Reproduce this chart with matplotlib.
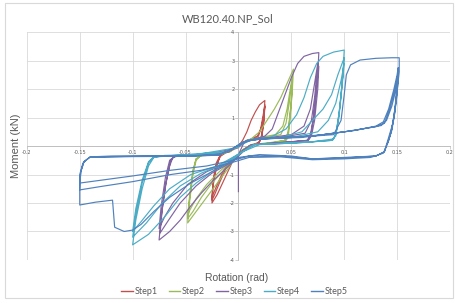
import matplotlib.pyplot as plt
from matplotlib.patches import Rectangle
from matplotlib.lines import Line2D

# (rotation rad, moment kN), one list per step
step1_pts = [
    (0.0, 0.0), (0.004, 0.2), (0.008, 0.5), (0.012, 0.9), (0.016, 1.2), (0.02, 1.45), (0.025, 1.6),
    (0.024, 1.0), (0.022, 0.4), (0.02, 0.15), (0.014, 0.05), (0.008, -0.05), (0.003, -0.25),
    (-0.005, -0.5), (-0.01, -0.9), (-0.015, -1.3), (-0.02, -1.7), (-0.025, -2.0),
    (-0.024, -1.4), (-0.021, -0.8), (-0.018, -0.4), (-0.014, -0.25), (-0.008, -0.15), (0.0, 0.0),
    (0.006, 0.15), (0.012, 0.25), (0.018, 0.35), (0.021, 0.6), (0.023, 1.0), (0.025, 1.45),
    (0.024, 0.9), (0.022, 0.3), (0.019, 0.1), (0.01, 0.0), (0.003, -0.2),
    (-0.005, -0.45), (-0.012, -0.8), (-0.018, -1.3), (-0.023, -1.75), (-0.025, -1.9),
    (-0.024, -1.3), (-0.021, -0.7), (-0.017, -0.35), (-0.01, -0.2), (0.0, -0.05),
    (0.006, 0.15), (0.014, 0.25), (0.019, 0.35), (0.022, 0.7), (0.024, 1.1), (0.025, 1.4),
    (0.024, 0.85), (0.022, 0.3), (0.019, 0.1), (0.01, 0.0), (0.003, -0.2),
    (-0.006, -0.45), (-0.014, -0.85), (-0.02, -1.35), (-0.024, -1.7), (-0.025, -1.85),
    (-0.024, -1.2), (-0.021, -0.6), (-0.017, -0.3), (-0.008, -0.15), (0.0, 0.0),
]

step2_pts = [
    (0.0, 0.0), (0.005, 0.15), (0.012, 0.25), (0.02, 0.5), (0.027, 0.9), (0.034, 1.3), (0.04, 1.7),
    (0.046, 2.2), (0.052, 2.7),
    (0.051, 2.0), (0.049, 1.0), (0.047, 0.3), (0.044, 0.15), (0.03, 0.1), (0.015, 0.05), (0.005, -0.1),
    (-0.003, -0.4), (-0.01, -0.8), (-0.018, -1.2), (-0.026, -1.6), (-0.034, -2.0), (-0.042, -2.4),
    (-0.048, -2.7),
    (-0.046, -1.9), (-0.043, -1.0), (-0.04, -0.5), (-0.036, -0.35), (-0.02, -0.3), (-0.008, -0.2),
    (0.0, 0.0), (0.008, 0.2),
    (0.02, 0.3), (0.035, 0.4), (0.042, 0.7), (0.046, 1.3), (0.049, 2.0), (0.051, 2.45),
    (0.05, 1.6), (0.047, 0.5), (0.044, 0.2), (0.03, 0.12), (0.012, 0.05), (0.004, -0.15),
    (-0.005, -0.5), (-0.015, -0.9), (-0.025, -1.3), (-0.035, -1.8), (-0.043, -2.3), (-0.048, -2.55),
    (-0.046, -1.8), (-0.043, -0.9), (-0.04, -0.45), (-0.035, -0.33), (-0.02, -0.3), (-0.008, -0.2),
    (0.0, 0.0), (0.008, 0.2),
    (0.025, 0.3), (0.04, 0.4), (0.045, 0.8), (0.048, 1.5), (0.05, 2.1), (0.051, 2.35),
    (0.05, 1.5), (0.047, 0.45), (0.044, 0.2), (0.03, 0.1), (0.012, 0.05), (0.004, -0.15),
    (-0.006, -0.5), (-0.018, -0.9), (-0.03, -1.35), (-0.04, -1.85), (-0.046, -2.25), (-0.048, -2.45),
    (-0.046, -1.7), (-0.043, -0.85), (-0.04, -0.45), (-0.035, -0.33), (-0.015, -0.28), (0.0, 0.0),
]

step3_pts = [
    (0.0, -1.6), (0.0, -0.3), (0.005, 0.1), (0.015, 0.25), (0.025, 0.35), (0.032, 0.6), (0.038, 1.2),
    (0.044, 1.8), (0.05, 2.4), (0.056, 2.9), (0.062, 3.15), (0.07, 3.25), (0.076, 3.28),
    (0.075, 2.5), (0.072, 1.3), (0.069, 0.5), (0.066, 0.2), (0.05, 0.15), (0.03, 0.1), (0.012, 0.05),
    (0.004, -0.15), (-0.005, -0.55), (-0.015, -0.9), (-0.025, -1.25), (-0.035, -1.65),
    (-0.045, -2.1), (-0.055, -2.6), (-0.065, -3.0), (-0.075, -3.3),
    (-0.073, -2.5), (-0.069, -1.4), (-0.065, -0.7), (-0.062, -0.4), (-0.055, -0.33), (-0.03, -0.3),
    (-0.01, -0.22), (0.0, 0.0), (0.008, 0.2),
    (0.03, 0.3), (0.05, 0.4), (0.062, 0.7), (0.068, 1.3), (0.072, 2.2), (0.075, 2.9),
    (0.074, 2.2), (0.071, 1.0), (0.068, 0.4), (0.065, 0.2), (0.04, 0.12), (0.015, 0.05),
    (0.004, -0.2), (-0.008, -0.6), (-0.025, -0.95), (-0.04, -1.4), (-0.055, -2.0), (-0.066, -2.6),
    (-0.074, -3.05),
    (-0.072, -2.2), (-0.068, -1.2), (-0.064, -0.5), (-0.06, -0.35), (-0.03, -0.3), (-0.01, -0.2),
    (0.0, 0.0), (0.01, 0.22),
    (0.04, 0.3), (0.063, 0.45), (0.069, 0.9), (0.072, 1.7), (0.074, 2.5), (0.076, 2.8),
    (0.075, 2.0), (0.072, 0.9), (0.069, 0.35), (0.066, 0.2), (0.04, 0.1), (0.015, 0.05),
    (0.004, -0.2), (-0.01, -0.6), (-0.03, -0.9), (-0.048, -1.35), (-0.062, -2.0), (-0.07, -2.5),
    (-0.075, -2.9),
    (-0.073, -2.1), (-0.069, -1.1), (-0.065, -0.5), (-0.06, -0.35), (-0.03, -0.3), (0.0, -0.05),
]

step4_pts = [
    (0.0, 0.0), (0.01, 0.2), (0.03, 0.3), (0.045, 0.6), (0.055, 1.1), (0.062, 1.7), (0.068, 2.4),
    (0.074, 2.9), (0.08, 3.15), (0.09, 3.3), (0.1, 3.37),
    (0.099, 2.6), (0.096, 1.4), (0.093, 0.6), (0.09, 0.25), (0.07, 0.15), (0.04, 0.1), (0.015, 0.05),
    (0.004, -0.2), (-0.01, -0.6), (-0.025, -0.9), (-0.04, -1.3), (-0.055, -1.8), (-0.07, -2.5),
    (-0.085, -3.1), (-0.1, -3.47),
    (-0.097, -2.6), (-0.091, -1.5), (-0.085, -0.7), (-0.08, -0.4), (-0.07, -0.33), (-0.04, -0.3),
    (-0.012, -0.22), (0.0, 0.0), (0.01, 0.22),
    (0.04, 0.3), (0.06, 0.5), (0.07, 0.9), (0.08, 1.3), (0.088, 1.8), (0.094, 2.5), (0.1, 3.1),
    (0.098, 2.2), (0.095, 1.1), (0.092, 0.4), (0.089, 0.2), (0.06, 0.12), (0.02, 0.05),
    (0.004, -0.2), (-0.015, -0.65), (-0.035, -0.95), (-0.055, -1.4), (-0.072, -2.0), (-0.087, -2.7),
    (-0.1, -3.2),
    (-0.097, -2.4), (-0.091, -1.3), (-0.085, -0.6), (-0.08, -0.38), (-0.05, -0.3), (-0.012, -0.2),
    (0.0, 0.0), (0.012, 0.22),
    (0.05, 0.3), (0.075, 0.5), (0.085, 0.9), (0.092, 1.5), (0.097, 2.3), (0.1, 2.9),
    (0.098, 2.1), (0.095, 1.0), (0.092, 0.35), (0.088, 0.2), (0.05, 0.1), (0.015, 0.05),
    (0.004, -0.2), (-0.02, -0.7), (-0.045, -1.0), (-0.065, -1.5), (-0.08, -2.1), (-0.093, -2.7),
    (-0.1, -3.0),
    (-0.097, -2.2), (-0.091, -1.2), (-0.085, -0.55), (-0.08, -0.38), (-0.04, -0.3), (0.0, -0.05),
]

step5_pts = [
    (0.0, 0.0), (0.01, 0.2), (0.04, 0.3), (0.07, 0.35), (0.09, 0.4), (0.097, 0.9), (0.1, 1.8),
    (0.102, 2.5), (0.106, 2.85), (0.115, 3.02), (0.13, 3.08), (0.145, 3.1), (0.152, 3.1),
    (0.152, 2.6), (0.149, 1.6), (0.146, 0.8), (0.142, 0.3), (0.138, -0.2), (0.13, -0.35),
    (0.1, -0.4), (0.07, -0.45), (0.05, -0.35), (0.02, -0.3), (0.0, -0.4), (-0.01, -0.6),
    (-0.025, -0.9), (-0.045, -1.3), (-0.065, -1.8), (-0.08, -2.3), (-0.092, -2.75), (-0.1, -2.95),
    (-0.108, -3.0), (-0.117, -2.85), (-0.119, -1.9), (-0.135, -1.97), (-0.15, -2.07),
    (-0.15, -1.5), (-0.149, -0.9), (-0.146, -0.55), (-0.14, -0.38), (-0.12, -0.35), (-0.08, -0.35),
    (-0.04, -0.34), (-0.018, -0.3), (-0.006, -0.1), (0.005, 0.15), (0.02, 0.25),
    (0.05, 0.3), (0.08, 0.4), (0.11, 0.55), (0.13, 0.7), (0.137, 0.85), (0.142, 1.3),
    (0.147, 2.0), (0.15, 2.5), (0.151, 2.75),
    (0.15, 2.2), (0.148, 1.3), (0.145, 0.6), (0.142, 0.2), (0.138, -0.2), (0.13, -0.35),
    (0.1, -0.42), (0.07, -0.45), (0.04, -0.35), (0.01, -0.35), (-0.005, -0.5), (-0.03, -0.7),
    (-0.064, -0.85), (-0.1, -1.05), (-0.13, -1.2), (-0.15, -1.3),
    (-0.149, -0.9), (-0.146, -0.55), (-0.14, -0.38), (-0.1, -0.36), (-0.05, -0.35), (-0.018, -0.3),
    (-0.006, -0.1), (0.005, 0.15), (0.02, 0.25),
    (0.06, 0.3), (0.1, 0.5), (0.13, 0.68), (0.138, 0.8), (0.143, 1.3), (0.148, 2.0), (0.151, 2.55),
    (0.15, 2.0), (0.148, 1.2), (0.145, 0.55), (0.142, 0.2), (0.137, -0.25), (0.125, -0.4),
    (0.1, -0.45), (0.07, -0.48), (0.04, -0.38), (0.01, -0.4), (-0.008, -0.6), (-0.035, -0.85),
    (-0.064, -1.0), (-0.1, -1.25), (-0.13, -1.42), (-0.15, -1.54),
    (-0.15, -1.0), (-0.147, -0.6), (-0.141, -0.4), (-0.1, -0.37), (-0.05, -0.36), (-0.018, -0.32),
    (-0.006, -0.1), (0.005, 0.15), (0.02, 0.28),
    (0.07, 0.35), (0.11, 0.55), (0.135, 0.72), (0.14, 0.9), (0.145, 1.4), (0.149, 2.0), (0.151, 2.4),
    (0.15, 1.8), (0.147, 1.0), (0.144, 0.45), (0.141, 0.1),
]

steps = ["Step1", "Step2", "Step3", "Step4", "Step5"]
all_pts = [step1_pts, step2_pts, step3_pts, step4_pts, step5_pts]
colors = ["#C0504D", "#9BBB59", "#8064A2", "#4BACC6", "#4F81BD"]

x_ticks = [-0.2, -0.15, -0.1, -0.05, 0.05, 0.1, 0.15, 0.2]
x_labels = ["-0.2", "-0.15", "-0.1", "-0.05", "0.05", "0.1", "0.15", "0.2"]
y_ticks = [-4, -3, -2, -1, 1, 2, 3, 4]

fig = plt.figure(figsize=(4.55, 3.03), dpi=100)
fig.patches.append(Rectangle((0.011, 0.015), 0.984, 0.975, transform=fig.transFigure,
                             fill=False, edgecolor="#d9d9d9", linewidth=0.8))

ax = fig.add_axes([0.059, 0.142, 0.93, 0.752])

for name, pts, c in zip(steps, all_pts, colors):
    xs = [p[0] for p in pts]
    ms = [p[1] for p in pts]
    ax.plot(xs, ms, color=c, linewidth=0.85)

ax.set_xlim(-0.2, 0.2)
ax.set_ylim(-4, 4)

# gridlines
for gx in x_ticks:
    ax.axvline(gx, color="#d9d9d9", linewidth=0.6, zorder=0)
for gy in y_ticks:
    ax.axhline(gy, color="#d9d9d9", linewidth=0.6, zorder=0)

ax.spines["top"].set_visible(False)
ax.spines["right"].set_visible(False)
for side in ["left", "bottom"]:
    ax.spines[side].set_position(("data", 0))
    ax.spines[side].set_color("#bfbfbf")
    ax.spines[side].set_linewidth(0.7)
    ax.spines[side].set_zorder(0.5)

ax.set_xticks(x_ticks)
ax.set_xticklabels(x_labels)
ax.set_yticks(y_ticks)
ax.set_yticklabels([str(v) for v in y_ticks])
ax.tick_params(axis="both", labelsize=3.5, labelcolor="#595959", color="#bfbfbf",
               length=2, width=0.5, pad=1)

fig.text(0.5, 0.94, "WB120.40.NP_Sol", ha="center", va="center", fontsize=8,
         color="#595959", family="Lato")
fig.text(0.035, 0.52, "Moment (kN)", ha="center", va="center", rotation=90,
         fontsize=8, color="#595959", family="Liberation Sans")
fig.text(0.52, 0.083, "Rotation (rad)", ha="center", va="center", fontsize=7.5,
         color="#595959", family="Liberation Sans")

handles = [Line2D([], [], color=c, linewidth=1.0) for c in colors]
leg = fig.legend(handles, steps, loc="center", bbox_to_anchor=(0.515, 0.037), ncol=5,
                 frameon=False, handlelength=1.3, handletextpad=0.2, columnspacing=1.2,
                 prop={"family": "Lato", "size": 6.5})
for t in leg.get_texts():
    t.set_color("#595959")

fig.savefig("out.png", dpi=100)
